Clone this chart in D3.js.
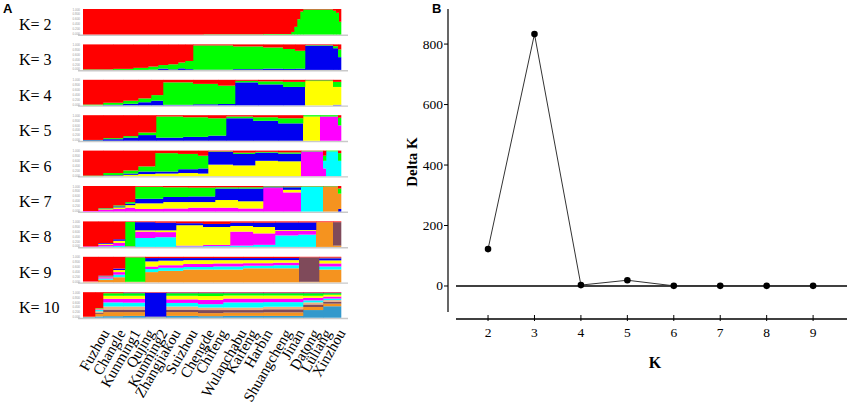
<!DOCTYPE html>
<html>
<head>
<meta charset="utf-8">
<script src="https://cdnjs.cloudflare.com/ajax/libs/d3/7.8.5/d3.min.js"></script>
<style>
  body { margin: 0; background: #fff; }
  svg { display: block; }
</style>
</head>
<body>
<svg id="fig"></svg>
<script>
var w = 850, h = 402;

// ---- panel A data: STRUCTURE membership, blocks of individuals [from, to, q...]
var kValues = [2, 3, 4, 5, 6, 7, 8, 9, 10];
var nIndividuals = 258;

var orderK2 = ["green", "red"];
var blocksK2 = [
  [0, 120, 0, 1], [120, 180, 0.01, 0.99], [180, 208, 0.02, 0.98],
  [208, 211, 0.1, 0.9], [211, 214, 0.3, 0.7], [214, 217, 0.6, 0.4],
  [217, 220, 0.9, 0.1], [220, 250, 0.98, 0.02], [250, 253, 0.93, 0.07],
  [253, 256, 0.85, 0.15], [256, 258, 0.5, 0.5]
];

var orderK3 = ["blue", "green", "red"];
var blocksK3 = [
  [0, 30, 0, 0.02, 0.98], [30, 50, 0, 0.04, 0.96], [50, 65, 0, 0.08, 0.92],
  [65, 75, 0.01, 0.12, 0.87], [75, 85, 0.05, 0.14, 0.81], [85, 95, 0.02, 0.2, 0.78],
  [95, 102, 0.06, 0.23, 0.71], [102, 110, 0.03, 0.32, 0.65],
  [110, 150, 0.01, 0.95, 0.04], [150, 180, 0.03, 0.89, 0.08],
  [180, 200, 0.05, 0.83, 0.12], [200, 212, 0.04, 0.78, 0.18],
  [212, 222, 0.05, 0.7, 0.25], [222, 250, 0.95, 0.02, 0.03],
  [250, 255, 0.85, 0.08, 0.07], [255, 258, 0.5, 0.3, 0.2]
];

var orderK4 = ["blue", "yellow", "green", "red"];
var blocksK4 = [
  [0, 20, 0, 0, 0.03, 0.97], [20, 40, 0.02, 0, 0.08, 0.9], [40, 55, 0.06, 0, 0.12, 0.82],
  [55, 68, 0.12, 0, 0.15, 0.73], [68, 80, 0.18, 0, 0.22, 0.6],
  [80, 110, 0.02, 0, 0.88, 0.1], [110, 135, 0.04, 0, 0.8, 0.16], [135, 152, 0.05, 0, 0.72, 0.23],
  [152, 175, 0.9, 0, 0.06, 0.04], [175, 200, 0.82, 0, 0.12, 0.06], [200, 222, 0.72, 0, 0.2, 0.08],
  [222, 250, 0, 0.95, 0.03, 0.02], [250, 258, 0.02, 0.7, 0.2, 0.08]
];

var orderK5 = ["blue", "yellow", "magenta", "green", "red"];
var blocksK5 = [
  [0, 20, 0.02, 0, 0, 0.01, 0.97], [20, 40, 0.06, 0, 0, 0.04, 0.9],
  [40, 55, 0.12, 0, 0, 0.06, 0.82], [55, 73, 0.22, 0, 0, 0.1, 0.68],
  [73, 100, 0.12, 0, 0, 0.83, 0.05], [100, 125, 0.15, 0, 0, 0.77, 0.08],
  [125, 143, 0.2, 0, 0, 0.68, 0.12], [143, 170, 0.88, 0, 0, 0.07, 0.05],
  [170, 195, 0.78, 0, 0, 0.14, 0.08], [195, 220, 0.68, 0, 0, 0.2, 0.12],
  [220, 237, 0, 0.95, 0, 0.05, 0], [237, 255, 0, 0, 0.95, 0.05, 0],
  [255, 258, 0, 0, 0.6, 0.3, 0.1]
];

var orderK6 = ["yellow", "blue", "magenta", "cyan", "green", "red"];
var blocksK6 = [
  [0, 20, 0, 0, 0, 0, 0.02, 0.98], [20, 40, 0.02, 0.02, 0, 0, 0.08, 0.88],
  [40, 55, 0.05, 0.05, 0, 0, 0.12, 0.78], [55, 72, 0.08, 0.1, 0, 0, 0.2, 0.62],
  [72, 95, 0.1, 0.08, 0, 0, 0.72, 0.1], [95, 115, 0.12, 0.15, 0, 0, 0.6, 0.13],
  [115, 125, 0.1, 0.2, 0, 0, 0.5, 0.2], [125, 150, 0.45, 0.5, 0, 0, 0.02, 0.03],
  [150, 172, 0.42, 0.45, 0, 0, 0.05, 0.08], [172, 195, 0.6, 0.32, 0, 0, 0.03, 0.05],
  [195, 218, 0.58, 0.3, 0, 0, 0.05, 0.07], [218, 240, 0, 0, 0.97, 0, 0.02, 0.01],
  [240, 243, 0, 0, 0.3, 0.3, 0.2, 0.2], [243, 255, 0, 0, 0, 0.97, 0.03, 0],
  [255, 258, 0, 0, 0, 0.6, 0.3, 0.1]
];

var orderK7 = ["magenta", "yellow", "blue", "cyan", "orange", "green", "red"];
var blocksK7 = [
  [0, 15, 0.02, 0, 0, 0, 0, 0, 0.98], [15, 30, 0.06, 0.03, 0.02, 0, 0, 0.02, 0.87],
  [30, 42, 0.1, 0.06, 0.04, 0, 0, 0.04, 0.76], [42, 52, 0.15, 0.1, 0.06, 0, 0, 0.06, 0.63],
  [52, 80, 0.1, 0.22, 0.18, 0, 0, 0.47, 0.03], [80, 105, 0.12, 0.25, 0.2, 0, 0, 0.38, 0.05],
  [105, 132, 0.15, 0.22, 0.22, 0, 0, 0.35, 0.06], [132, 155, 0.15, 0.3, 0.45, 0, 0, 0.05, 0.05],
  [155, 180, 0.12, 0.28, 0.5, 0, 0, 0.05, 0.05], [180, 200, 0.92, 0.02, 0.03, 0, 0, 0.02, 0.01],
  [200, 218, 0.75, 0.1, 0.1, 0, 0, 0.03, 0.02], [218, 240, 0, 0, 0, 0.97, 0, 0.02, 0.01],
  [240, 255, 0, 0, 0, 0, 0.97, 0.02, 0.01], [255, 258, 0, 0, 0.1, 0, 0.6, 0.2, 0.1]
];

var orderK8 = ["cyan", "magenta", "yellow", "orange", "mauve", "green", "blue", "red"];
var blocksK8 = [
  [0, 15, 0, 0.02, 0, 0, 0, 0, 0, 0.98], [15, 30, 0.02, 0.06, 0.04, 0, 0, 0, 0.03, 0.85],
  [30, 42, 0.04, 0.12, 0.08, 0, 0, 0, 0.06, 0.7], [42, 52, 0, 0.02, 0, 0, 0, 0.96, 0, 0.02],
  [52, 72, 0.35, 0.25, 0.05, 0, 0, 0, 0.32, 0.03], [72, 93, 0.38, 0.2, 0.07, 0, 0, 0, 0.3, 0.05],
  [93, 120, 0.02, 0.03, 0.8, 0, 0, 0, 0.08, 0.07], [120, 147, 0.03, 0.05, 0.7, 0, 0, 0, 0.12, 0.1],
  [147, 170, 0.05, 0.55, 0.22, 0, 0, 0, 0.13, 0.05], [170, 192, 0.08, 0.45, 0.25, 0, 0, 0, 0.17, 0.05],
  [192, 215, 0.45, 0.18, 0.03, 0, 0, 0, 0.3, 0.04], [215, 233, 0.48, 0.15, 0.03, 0, 0, 0, 0.3, 0.04],
  [233, 250, 0, 0, 0, 0.97, 0, 0, 0, 0.03], [250, 258, 0, 0, 0, 0.05, 0.92, 0, 0, 0.03]
];

var orderK9 = ["orange", "cyan", "magenta", "yellow", "blue", "mauve", "green", "red"];
var blocksK9 = [
  [0, 15, 0.03, 0, 0.01, 0, 0, 0, 0, 0.96], [15, 30, 0.1, 0.05, 0.05, 0.03, 0.03, 0, 0, 0.74],
  [30, 42, 0.2, 0.1, 0.1, 0.08, 0.06, 0, 0, 0.46], [42, 62, 0.02, 0, 0, 0, 0, 0, 0.96, 0.02],
  [62, 75, 0.4, 0.12, 0.1, 0.2, 0.13, 0, 0, 0.05], [75, 100, 0.45, 0.12, 0.1, 0.18, 0.1, 0, 0, 0.05],
  [100, 130, 0.5, 0.1, 0.12, 0.15, 0.08, 0, 0, 0.05], [130, 160, 0.5, 0.12, 0.12, 0.13, 0.08, 0, 0, 0.05],
  [160, 190, 0.55, 0.1, 0.1, 0.12, 0.08, 0, 0, 0.05], [190, 216, 0.55, 0.12, 0.1, 0.1, 0.08, 0, 0, 0.05],
  [216, 236, 0.02, 0, 0, 0, 0, 0.96, 0, 0.02], [236, 258, 0.5, 0.12, 0.12, 0.12, 0.08, 0.03, 0, 0.03]
];

var orderK10 = ["teal", "orange", "mauve", "peach", "cyan", "magenta", "yellow", "green", "blue", "red"];
var blocksK10 = [
  [0, 12, 0.02, 0.02, 0, 0, 0, 0, 0, 0, 0, 0.96], [12, 20, 0.05, 0.1, 0.05, 0.05, 0.05, 0.03, 0.02, 0.02, 0, 0.63],
  [20, 40, 0.06, 0.16, 0.1, 0.12, 0.16, 0.14, 0.12, 0.1, 0, 0.04], [40, 62, 0.07, 0.15, 0.1, 0.12, 0.15, 0.15, 0.12, 0.1, 0.02, 0.02],
  [62, 83, 0.02, 0.02, 0, 0, 0, 0, 0, 0, 0.94, 0.02], [83, 115, 0.07, 0.15, 0.1, 0.12, 0.14, 0.14, 0.14, 0.1, 0.02, 0.02],
  [115, 140, 0.06, 0.12, 0.12, 0.1, 0.13, 0.17, 0.15, 0.11, 0.02, 0.02], [140, 180, 0.07, 0.13, 0.1, 0.1, 0.2, 0.15, 0.12, 0.09, 0.02, 0.02],
  [180, 220, 0.07, 0.14, 0.12, 0.1, 0.18, 0.14, 0.12, 0.09, 0.02, 0.02], [220, 240, 0.3, 0.12, 0.1, 0.08, 0.08, 0.1, 0.08, 0.1, 0.02, 0.02],
  [240, 258, 0.45, 0.1, 0.08, 0.06, 0.06, 0.08, 0.07, 0.06, 0.02, 0.02]
];

var populations = ["Fuzhou", "Changle", "Kunming1", "Qujing", "Kunming2", "Zhangjiakou", "Suizhou",
  "Chengde", "Chifeng", "Wulanchabu", "Kaifeng", "Harbin", "Shuangcheng", "Jinan", "Datong", "Lüliang", "Xinzhou"];
var popPositions = [22, 38, 53, 67, 80, 93, 110, 127, 140, 159, 170, 185, 204, 217, 232, 244, 258];

var qTicks = ["1.000", "0.800", "0.600", "0.400", "0.200", "0.000"];

// ---- panel B data: Evanno delta K
var deltaKx = [2, 3, 4, 5, 6, 7, 8, 9];
var deltaK = [122, 833, 3, 19, 0.5, 0.4, 0.4, 0.4];
var yTicks = [0, 200, 400, 600, 800];

var clusterColors = {
  red: "#ff0000", green: "#00ff00", blue: "#0000f0", yellow: "#ffff00",
  magenta: "#ff00ff", cyan: "#00ffff", orange: "#f5931f", mauve: "#7f4a5a",
  peach: "#f0b080", teal: "#3399cc"
};

var allRows = [
  [orderK2, blocksK2], [orderK3, blocksK3], [orderK4, blocksK4], [orderK5, blocksK5],
  [orderK6, blocksK6], [orderK7, blocksK7], [orderK8, blocksK8], [orderK9, blocksK9], [orderK10, blocksK10]
];

var svg = d3.select('#fig').attr('width', w).attr('height', h);
var serif = "'Liberation Serif', 'Times New Roman', serif";

// ============ panel A ============
svg.append('text').attr('x', 3).attr('y', 13)
  .style('font-family', 'Liberation Sans, Arial, sans-serif').style('font-weight', 'bold').style('font-size', '13px')
  .text('A');

var xA = d3.scaleLinear().domain([0, nIndividuals]).range([83, 341]);
var rowBand = d3.scaleBand().domain(kValues).range([9, 9 + 9 * 35.4]);
var stripH = 25.5;

kValues.forEach(function(k, r) {
  var order = allRows[r][0], blocks = allRows[r][1];
  var top = rowBand(k);
  var yS = d3.scaleLinear().domain([0, 1]).range([top + stripH, top]);

  var rows = blocks.map(function(b) {
    var o = { x0: b[0], x1: b[1] };
    order.forEach(function(c, i) { o[c] = b[i + 2]; });
    return o;
  });
  var series = d3.stack().keys(order).offset(d3.stackOffsetExpand)(rows);

  var g = svg.append('g').attr('class', 'strip k' + k);

  // baseline and little q axis
  g.append('line')
    .attr('x1', 78).attr('x2', 348)
    .attr('y1', top + stripH + 0.8).attr('y2', top + stripH + 0.8)
    .attr('stroke', '#c9c9c9').attr('stroke-width', 1.4);
  g.selectAll('text.q').data(qTicks).enter().append('text')
    .attr('class', 'q')
    .attr('x', 80)
    .attr('y', function(d, i) { return top + 1.5 + i * (stripH - 1) / 5; })
    .attr('text-anchor', 'end')
    .style('font-family', 'Liberation Sans, Arial, sans-serif')
    .style('font-size', '3px').attr('fill', '#999')
    .text(function(d) { return d; });

  series.forEach(function(s) {
    g.selectAll(null).data(s).enter().append('rect')
      .attr('x', function(d) { return xA(d.data.x0); })
      .attr('width', function(d) { return xA(d.data.x1) - xA(d.data.x0) + 0.3; })
      .attr('y', function(d) { return yS(d[1]); })
      .attr('height', function(d) { return Math.max(0, yS(d[0]) - yS(d[1])); })
      .attr('fill', clusterColors[s.key]);
  });

  svg.append('text')
    .attr('x', 19).attr('y', top + 21)
    .style('font-family', serif).style('font-size', '16px')
    .text('K= ' + k);
});

// population names
svg.append('g').selectAll('text').data(populations).enter().append('text')
  .attr('transform', function(d, i) {
    return 'translate(' + (xA(popPositions[i]) + 5) + ',333) rotate(-60)';
  })
  .attr('text-anchor', 'end')
  .style('font-family', serif).style('font-size', '15px')
  .text(function(d) { return d; });

// ============ panel B ============
svg.append('text').attr('x', 432).attr('y', 13)
  .style('font-family', 'Liberation Sans, Arial, sans-serif').style('font-weight', 'bold').style('font-size', '13px')
  .text('B');

var xB = d3.scaleLinear().domain([1.31, 9.73]).range([456, 847]);
var yB = d3.scaleLinear().domain([-86, 916]).range([312, 9]);

var gB = svg.append('g');

// y axis
gB.append('line').attr('x1', 448).attr('x2', 448).attr('y1', yB(916)).attr('y2', yB(-86))
  .attr('stroke', '#000').attr('stroke-width', 1.2);
gB.selectAll('.ytick').data(yTicks).enter().append('line')
  .attr('x1', 444).attr('x2', 448)
  .attr('y1', function(d) { return yB(d); }).attr('y2', function(d) { return yB(d); })
  .attr('stroke', '#000');
gB.selectAll('.ylab').data(yTicks).enter().append('text')
  .attr('x', 443).attr('y', function(d) { return yB(d) + 4.5; })
  .attr('text-anchor', 'end')
  .style('font-family', serif).style('font-size', '13.5px')
  .text(function(d) { return d; });

// zero line
gB.append('line').attr('x1', xB(1.31)).attr('x2', xB(9.73)).attr('y1', yB(0)).attr('y2', yB(0))
  .attr('stroke', '#000').attr('stroke-width', 1.3);

// x axis
var xAxisY = 319;
gB.append('line').attr('x1', xB(1.31)).attr('x2', xB(9.73)).attr('y1', xAxisY).attr('y2', xAxisY)
  .attr('stroke', '#000').attr('stroke-width', 1.3);
gB.selectAll('.xtick').data(deltaKx).enter().append('line')
  .attr('x1', function(d) { return xB(d); }).attr('x2', function(d) { return xB(d); })
  .attr('y1', xAxisY - 4).attr('y2', xAxisY + 2)
  .attr('stroke', '#000');
gB.selectAll('.xlab').data(deltaKx).enter().append('text')
  .attr('x', function(d) { return xB(d); }).attr('y', xAxisY + 18)
  .attr('text-anchor', 'middle')
  .style('font-family', serif).style('font-size', '13.5px')
  .text(function(d) { return d; });

// series
var line = d3.line()
  .x(function(d, i) { return xB(deltaKx[i]); })
  .y(function(d) { return yB(d); });
gB.append('path').datum(deltaK)
  .attr('d', line).attr('fill', 'none')
  .attr('stroke', '#333').attr('stroke-width', 1);
gB.selectAll('circle').data(deltaK).enter().append('circle')
  .attr('cx', function(d, i) { return xB(deltaKx[i]); })
  .attr('cy', function(d) { return yB(d); })
  .attr('r', 3.3).attr('fill', '#000');

// axis titles
svg.append('text')
  .attr('x', 655).attr('y', 368)
  .attr('text-anchor', 'middle')
  .style('font-family', serif).style('font-weight', 'bold').style('font-size', '16px')
  .text('K');
svg.append('text')
  .attr('transform', 'translate(417,162) rotate(-90)')
  .attr('text-anchor', 'middle')
  .style('font-family', serif).style('font-weight', 'bold').style('font-size', '15px')
  .text('Delta K');
</script>
</body>
</html>
